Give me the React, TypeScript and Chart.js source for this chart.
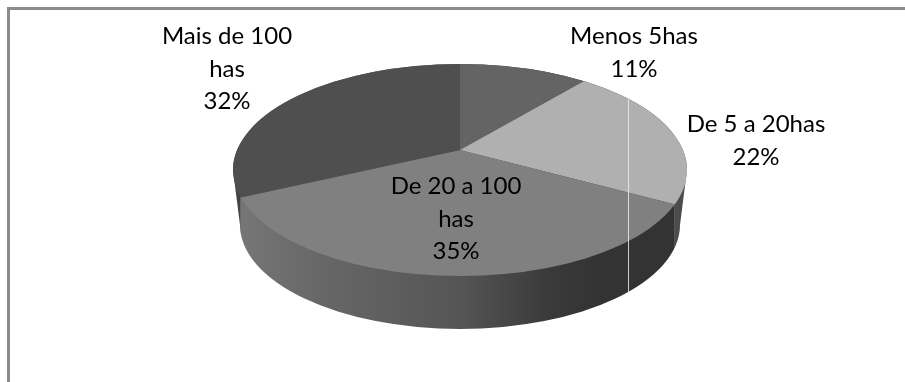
import React, { useEffect, useRef } from "react";
import { Chart, registerables } from "chart.js";

Chart.register(...registerables);

const categories = [
  ["Menos 5has"],
  ["De 5 a 20has"],
  ["De 20 a 100", "has"],
  ["Mais de 100", "has"],
];
const shares = [11, 22, 35, 32];
const topColors = ["#646464", "#b0b0b0", "#808080", "#4f4f4f"];

const WIDTH = 905;
const HEIGHT = 382;

// Tilted disc: the pie's apex sits above the centre of the visible rim.
const APEX = { x: 460, y: 150 };
const TILT = 0.46;
const PROJECTED_RADIUS = 340;
const RIM = { x: 460, y: 170, rx: 227, ry: 106 };
const BASE = { x: 460, y: 225, rx: 220, ry: 104 };
const SEAM_X = 628;

// Horizontal centre and first baseline of each label block.
const labelAnchors = [
  { x: 634, y: 44 },
  { x: 756, y: 132 },
  { x: 456, y: 194 },
  { x: 227, y: 44 },
];
const LINE_HEIGHT = 32.5;

type Ctx = CanvasRenderingContext2D;

const rimPoint = (angle: number) => {
  const dx = Math.cos(angle);
  const dy = TILT * Math.sin(angle);
  const ox = (APEX.x - RIM.x) / RIM.rx;
  const oy = (APEX.y - RIM.y) / RIM.ry;
  const ux = dx / RIM.rx;
  const uy = dy / RIM.ry;
  const a = ux * ux + uy * uy;
  const b = 2 * (ox * ux + oy * uy);
  const c = ox * ox + oy * oy - 1;
  const t = (-b + Math.sqrt(b * b - 4 * a * c)) / (2 * a);
  return { x: APEX.x + t * dx, y: APEX.y + t * dy };
};

const rimPath = (ctx: Ctx) => {
  ctx.beginPath();
  ctx.ellipse(RIM.x, RIM.y, RIM.rx, RIM.ry, 0, 0, Math.PI * 2);
};

const wallPath = (ctx: Ctx) => {
  ctx.beginPath();
  ctx.moveTo(RIM.x - RIM.rx, RIM.y);
  ctx.lineTo(BASE.x - BASE.rx, BASE.y);
  ctx.ellipse(BASE.x, BASE.y, BASE.rx, BASE.ry, 0, Math.PI, 0, true);
  ctx.lineTo(RIM.x + RIM.rx, RIM.y);
  ctx.ellipse(RIM.x, RIM.y, RIM.rx, RIM.ry, 0, 0, Math.PI, true);
  ctx.closePath();
};

const wallFill = (ctx: Ctx, index: number) => {
  if (index === 2) {
    const g = ctx.createLinearGradient(240, 0, 680, 0);
    g.addColorStop(0, "#767676");
    g.addColorStop(0.2, "#666666");
    g.addColorStop(0.5, "#555555");
    g.addColorStop(0.7, "#3a3a3a");
    g.addColorStop(0.82, "#333333");
    g.addColorStop(1, "#333333");
    return g;
  }
  return index === 1 ? "#4c4c4c" : "#434343";
};

// Side wall of the disc, one band for each slice that reaches the front half.
const drawWalls = (chart: Chart, ctx: Ctx) => {
  const arcs = chart.getDatasetMeta(0).data as any[];
  ctx.save();
  wallPath(ctx);
  ctx.clip();
  arcs.forEach((arc, i) => {
    let minX = Infinity;
    let maxX = -Infinity;
    for (let k = 0; k <= 90; k++) {
      const p = rimPoint(arc.startAngle + ((arc.endAngle - arc.startAngle) * k) / 90);
      if (p.y >= RIM.y) {
        minX = Math.min(minX, p.x);
        maxX = Math.max(maxX, p.x);
      }
    }
    if (minX > maxX) return;
    if (minX < RIM.x - RIM.rx + 2) minX = 0;
    if (maxX > RIM.x + RIM.rx - 2) maxX = WIDTH;
    ctx.fillStyle = wallFill(ctx, i);
    ctx.fillRect(minX, 0, maxX - minX, HEIGHT);
  });
  ctx.restore();
};

// Thin light seam from the top of the rim to the bottom of the wall.
const drawSeam = (ctx: Ctx) => {
  const rimDx = (SEAM_X - RIM.x) / RIM.rx;
  const baseDx = (SEAM_X - BASE.x) / BASE.rx;
  const top = RIM.y - RIM.ry * Math.sqrt(1 - rimDx * rimDx);
  const bottom = BASE.y + BASE.ry * Math.sqrt(1 - baseDx * baseDx);
  ctx.save();
  ctx.fillStyle = "rgba(235,235,235,0.85)";
  ctx.fillRect(SEAM_X, top, 1, bottom - top);
  ctx.restore();
};

const tiltedDisc = {
  id: "tiltedDisc",
  beforeDatasetsDraw(chart: Chart) {
    const ctx = chart.ctx;
    drawWalls(chart, ctx);
    const arc = chart.getDatasetMeta(0).data[0] as any;
    const scale = PROJECTED_RADIUS / arc.outerRadius;
    ctx.save();
    rimPath(ctx);
    ctx.clip();
    ctx.translate(APEX.x, APEX.y);
    ctx.scale(scale, scale * TILT);
    ctx.translate(-arc.x, -arc.y);
  },
  afterDatasetsDraw(chart: Chart) {
    const ctx = chart.ctx;
    ctx.restore();
    drawSeam(ctx);
  },
};

const frameAndLabels = {
  id: "frameAndLabels",
  beforeDraw(chart: Chart) {
    const ctx = chart.ctx;
    ctx.save();
    ctx.fillStyle = "#ffffff";
    ctx.fillRect(0, 0, WIDTH, HEIGHT);
    ctx.fillStyle = "#8c8c8c";
    ctx.fillRect(7, 7, WIDTH - 7, 3);
    ctx.fillRect(7, 7, 3, HEIGHT - 7);
    ctx.restore();
  },
  afterDraw(chart: Chart) {
    const ctx = chart.ctx;
    ctx.save();
    ctx.fillStyle = "#000000";
    ctx.font = '24px Lato, "Open Sans", sans-serif';
    ctx.textAlign = "center";
    ctx.textBaseline = "alphabetic";
    categories.forEach((lines, i) => {
      const rows = [...lines, `${shares[i]}%`];
      rows.forEach((row, r) => {
        ctx.fillText(row, labelAnchors[i].x, labelAnchors[i].y + r * LINE_HEIGHT);
      });
    });
    ctx.restore();
  },
};

export default function App() {
  const canvasRef = useRef<HTMLCanvasElement>(null);

  useEffect(() => {
    if (!canvasRef.current) return;
    const chart = new Chart(canvasRef.current, {
      type: "pie",
      data: {
        labels: categories.map((c) => c.join(" ")),
        datasets: [
          {
            data: shares,
            backgroundColor: topColors,
            borderWidth: 0,
            clip: false,
          } as any,
        ],
      },
      options: {
        responsive: false,
        animation: false,
        events: [],
        rotation: 0,
        plugins: { legend: { display: false }, tooltip: { enabled: false } },
      },
      plugins: [frameAndLabels, tiltedDisc],
    });
    return () => chart.destroy();
  }, []);

  return (
    <canvas
      ref={canvasRef}
      width={WIDTH}
      height={HEIGHT}
      style={{ position: "fixed", left: 0, top: 0, width: WIDTH, height: HEIGHT }}
    />
  );
}
